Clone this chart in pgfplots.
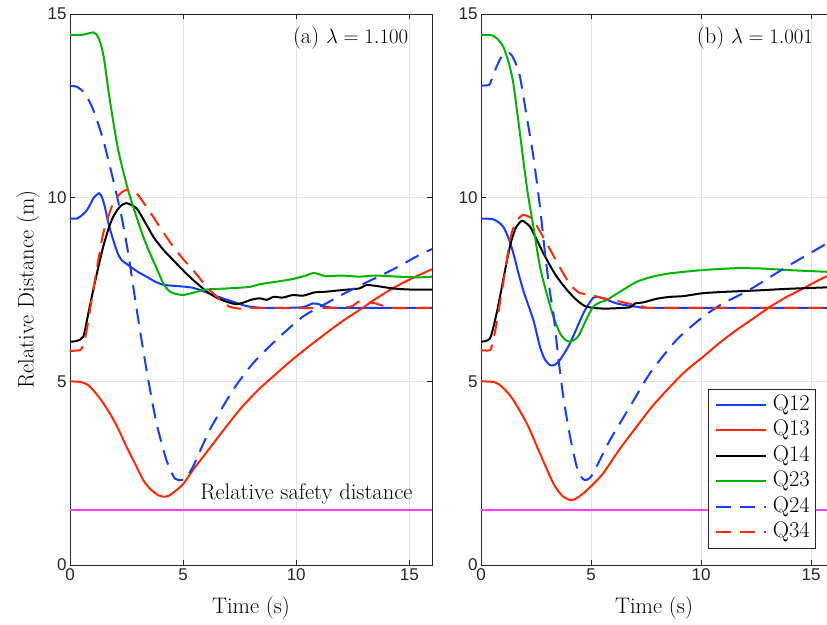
\documentclass[border=0pt]{standalone}
\usepackage{fontspec}
\usepackage{pgfplots}
\pgfplotsset{compat=1.18}
\newfontfamily\tickfont{Liberation Sans}
\definecolor{qblue}{RGB}{20,60,255}
\definecolor{qred}{RGB}{255,40,0}
\definecolor{qgreen}{RGB}{0,180,0}
\definecolor{qmag}{RGB}{255,60,255}
\definecolor{axgray}{RGB}{38,38,38}
\definecolor{gridgray}{RGB}{225,225,225}
\newcommand{\bigfont}{\fontsize{22.5}{25.8}\selectfont}
\pgfplotsset{
  L/.style={line width=2pt, smooth, tension=0.4},
  D/.style={line width=2pt, smooth, tension=0.4, dash pattern=on 15pt off 9pt},
  mystyle/.style={
    scale only axis, height=551pt,
    ymin=0, ymax=15, xmin=0,
    xtick={0,5,10,15}, ytick={0,5,10,15},
    grid=major, major grid style={draw=gridgray, line width=0.6pt},
    axis line style={draw=axgray, line width=0.6pt},
    tick style={draw=axgray, line width=0.6pt},
    major tick length=5pt, tick align=inside,
    /pgf/number format/assume math mode=true,
    tick label style={font=\fontsize{17}{17}\selectfont\tickfont, text=axgray},
    every axis x label/.style={at={(axis description cs:0.5,-0.077)}, anchor=center, font=\bigfont},
    every axis y label/.style={at={(axis description cs:-0.116,0.5)}, rotate=90, anchor=center, font=\bigfont},
  }
}
\begin{document}
\begin{tikzpicture}
\path[use as bounding box] (-70pt,-59pt) rectangle (757pt,565pt);
% ---------------- left panel
\begin{axis}[mystyle, width=362pt, xmax=16,
  xlabel={Time (s)}, ylabel={Relative Distance (m)}]
\addplot[L, qblue] coordinates {(0,9.43)(0.3,9.43)(0.44,9.48)(0.7,9.62)(0.88,9.8)(1.05,10.0)(1.29,10.12)(1.42,10.0)(1.54,9.75)(1.72,9.25)(1.91,8.85)(2.1,8.5)(2.28,8.3)(2.5,8.2)(2.72,8.1)(3.0,7.98)(3.38,7.85)(3.75,7.72)(4.12,7.63)(4.6,7.6)(5.0,7.58)(5.4,7.55)(5.73,7.49)(6.2,7.38)(6.7,7.27)(7.2,7.17)(7.79,7.05)(8.5,7.0)(9.5,7.0)(10.3,7.02)(10.73,7.12)(11.0,7.1)(11.3,7.03)(12,7.0)(16,7.0)};
\addplot[L, qred] coordinates {(0,5.0)(0.5,4.98)(0.8,4.9)(1.03,4.76)(1.4,4.47)(1.76,4.13)(2.1,3.75)(2.5,3.22)(2.9,2.73)(3.24,2.31)(3.5,2.1)(3.68,2.0)(3.9,1.9)(4.12,1.86)(4.35,1.88)(4.63,2.0)(5.0,2.2)(5.44,2.59)(6.2,3.2)(6.91,3.77)(7.6,4.3)(8.38,4.8)(9.1,5.2)(9.85,5.6)(10.6,5.97)(11.32,6.31)(12.0,6.62)(12.79,6.94)(13.5,7.24)(14.26,7.53)(15.1,7.8)(16,8.05)};
\addplot[L, black] coordinates {(0,6.08)(0.3,6.1)(0.59,6.22)(0.81,6.85)(1.03,7.5)(1.25,8.1)(1.47,8.67)(1.7,9.15)(1.91,9.48)(2.2,9.75)(2.5,9.85)(2.94,9.71)(3.3,9.35)(3.68,8.94)(4.1,8.6)(4.56,8.3)(5.0,8.02)(5.44,7.76)(6.03,7.45)(6.5,7.27)(6.91,7.17)(7.35,7.1)(7.7,7.15)(8.0,7.22)(8.38,7.26)(8.7,7.22)(9.0,7.3)(9.4,7.28)(9.85,7.35)(10.3,7.33)(10.8,7.42)(11.32,7.44)(11.8,7.47)(12.3,7.5)(12.79,7.53)(13.1,7.62)(13.5,7.6)(14.26,7.53)(15.0,7.5)(16,7.5)};
\addplot[L, qgreen] coordinates {(0,14.43)(0.5,14.43)(0.8,14.47)(1.03,14.5)(1.2,14.42)(1.35,14.2)(1.5,13.8)(1.76,12.66)(2.13,11.3)(2.57,10.2)(2.94,9.48)(3.2,9.0)(3.53,8.49)(3.85,8.05)(4.12,7.67)(4.35,7.48)(4.56,7.4)(5.0,7.35)(5.5,7.42)(6.03,7.5)(7.0,7.53)(7.94,7.57)(8.3,7.63)(8.67,7.67)(9.2,7.72)(9.8,7.78)(10.44,7.88)(10.74,7.95)(11.0,7.92)(11.3,7.86)(12,7.88)(12.8,7.85)(13.5,7.88)(14.5,7.85)(15.4,7.83)(16,7.85)};
\addplot[D, qblue] coordinates {(0,13.04)(0.3,13.02)(0.66,12.84)(1.03,12.39)(1.47,11.57)(1.91,10.48)(2.28,9.48)(2.57,8.5)(2.79,7.6)(3.09,6.4)(3.46,5.04)(3.82,3.87)(4.26,2.86)(4.63,2.36)(4.93,2.31)(5.15,2.4)(5.44,2.68)(6.18,3.68)(7.2,4.76)(8.09,5.49)(9.12,6.13)(10.29,6.76)(11.32,7.12)(12.0,7.35)(12.79,7.6)(14.26,8.04)(15.44,8.44)(16,8.6)};
\addplot[D, qred] coordinates {(0,5.83)(0.45,5.85)(0.6,6.0)(0.74,6.4)(0.9,7.0)(1.03,7.49)(1.25,8.3)(1.47,9.03)(1.7,9.5)(1.91,9.85)(2.2,10.1)(2.5,10.21)(2.94,10.12)(3.3,9.82)(3.68,9.48)(4.1,9.08)(4.56,8.67)(5.0,8.33)(5.44,8.03)(6.03,7.58)(6.32,7.4)(6.7,7.18)(7.06,7.03)(7.5,6.98)(8,7.0)(9,7.0)(10,6.99)(11,7.0)(12,7.0)(12.5,7.05)(12.79,7.17)(13.5,7.12)(14.26,7.0)(16,7.0)};
\addplot[qmag, line width=2pt, forget plot] coordinates {(0,1.5)(16,1.5)};
\node[font=\bigfont, anchor=base] at (axis cs:10.45,1.77) {Relative safety distance};
\node[font=\bigfont] at (axis cs:12.4,14.35) {(a) $\lambda = 1.100$};
\end{axis}
% ---------------- right panel
\begin{axis}[mystyle, at={(411pt,0pt)}, width=346pt, xmax=15.727,
  axis x line*=box, axis y line*=left, tick align=inside,
  xlabel={Time (s)},
  legend style={at={(axis description cs:0.967,0.03)}, anchor=south east,
    draw=axgray, line width=0.6pt, fill=white,
    font=\bigfont, inner sep=3pt, row sep=0pt,
    nodes={inner sep=2.5pt, text height=15.5pt, text depth=5pt}},
  legend cell align=left,
  legend image code/.code={\path (0pt,0pt) (57pt,0pt);\draw[#1, sharp plot] (4pt,0pt) -- (54pt,0pt);}]
\addplot[L, qblue] coordinates {(0,9.43)(0.5,9.42)(0.75,9.35)(1.01,9.21)(1.25,8.9)(1.47,8.49)(1.7,7.95)(1.95,7.42)(2.38,6.67)(2.68,5.94)(2.9,5.6)(3.14,5.44)(3.35,5.45)(3.59,5.58)(4.05,6.04)(4.65,6.85)(5.0,7.2)(5.18,7.3)(5.56,7.26)(6.17,7.12)(7.08,7.03)(8,7.0)(16,7.0)};
\addlegendentry{Q12}
\addplot[L, qred] coordinates {(0,5.0)(0.6,4.98)(0.9,4.88)(1.2,4.7)(1.47,4.49)(2.08,3.86)(2.68,3.04)(3.29,2.22)(3.7,1.88)(4.05,1.77)(4.3,1.8)(4.65,1.95)(5.1,2.2)(5.56,2.5)(6.3,3.15)(7.08,3.77)(7.8,4.33)(8.59,4.85)(9.3,5.28)(10.1,5.67)(10.85,6.05)(11.62,6.4)(12.4,6.72)(13.14,7.03)(13.9,7.3)(14.65,7.53)(15.4,7.77)(15.8,7.88)};
\addlegendentry{Q13}
\addplot[L, black] coordinates {(0,6.08)(0.41,6.17)(0.71,6.85)(1.01,7.76)(1.2,8.35)(1.39,8.85)(1.6,9.2)(1.85,9.37)(2.0,9.33)(2.23,9.21)(2.5,8.9)(2.83,8.49)(3.14,8.15)(3.44,7.85)(3.89,7.5)(4.35,7.21)(4.8,7.03)(5.56,6.98)(6.5,7.0)(6.8,7.02)(7.0,7.12)(7.38,7.15)(8.0,7.25)(8.59,7.3)(9.2,7.32)(10.1,7.4)(11.2,7.44)(12.4,7.47)(14,7.52)(15.8,7.56)};
\addlegendentry{Q14}
\addplot[L, qgreen] coordinates {(0,14.43)(0.5,14.42)(0.75,14.32)(1.01,14.11)(1.25,13.7)(1.47,13.11)(1.77,11.75)(2.08,10.3)(2.38,9.21)(2.68,8.12)(2.98,7.4)(3.29,6.76)(3.59,6.31)(3.85,6.12)(4.05,6.08)(4.3,6.15)(4.5,6.31)(4.8,6.7)(5.1,7.03)(5.4,7.15)(5.71,7.21)(6.32,7.44)(7.08,7.71)(7.8,7.85)(8.59,7.94)(10.1,8.03)(11.62,8.08)(12.8,8.07)(13.9,8.03)(15.8,7.98)};
\addlegendentry{Q23}
\addplot[D, qblue] coordinates {(0,13.05)(0.3,13.06)(0.41,13.1)(0.71,13.57)(0.9,13.8)(1.09,13.93)(1.25,13.95)(1.39,13.88)(1.55,13.7)(1.77,13.3)(2.08,12.2)(2.38,11.12)(2.68,9.75)(2.91,8.49)(3.14,7.4)(3.29,6.85)(3.51,5.67)(3.74,4.58)(4.05,3.49)(4.35,2.68)(4.55,2.4)(4.73,2.31)(4.9,2.35)(5.1,2.5)(5.86,3.4)(6.77,4.31)(7.68,5.22)(8.89,6.13)(10.1,6.76)(11.0,7.12)(12.2,7.49)(13.9,8.12)(15.8,8.78)};
\addlegendentry{Q24}
\addplot[D, qred] coordinates {(0,5.85)(0.41,5.85)(0.55,6.1)(0.71,6.58)(0.85,7.1)(1.01,7.67)(1.2,8.4)(1.39,9.03)(1.65,9.4)(1.92,9.53)(2.1,9.5)(2.38,9.39)(2.98,8.76)(3.74,7.94)(4.1,7.6)(4.5,7.4)(4.8,7.38)(5.2,7.32)(5.56,7.26)(6.32,7.17)(7.38,7.03)(8,7.0)(15.8,7.0)};
\addlegendentry{Q34}
\addplot[qmag, line width=2pt, forget plot] coordinates {(0,1.5)(16,1.5)};
\node[font=\bigfont] at (axis cs:12.45,14.35) {(b) $\lambda = 1.001$};
\end{axis}
\end{tikzpicture}
\end{document}
